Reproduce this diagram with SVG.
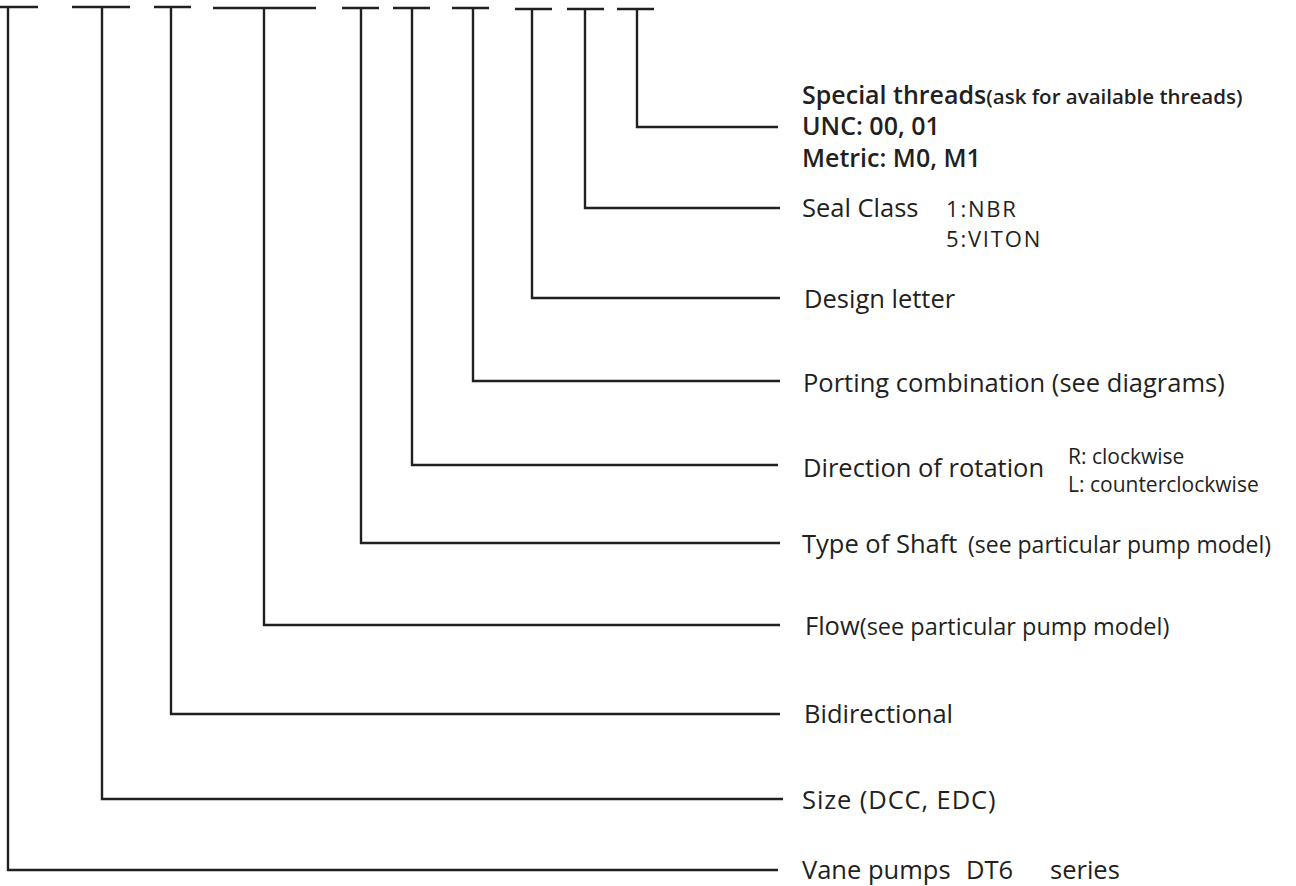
<svg xmlns="http://www.w3.org/2000/svg" width="1296" height="886" viewBox="0 0 1296 886">
<style>
.bar{stroke:#231f20;stroke-width:2.4;fill:none}
.con{stroke:#231f20;stroke-width:2.4;fill:none;stroke-linejoin:miter;stroke-linecap:butt}
text{font-family:"Open Sans","Noto Sans","Liberation Sans",sans-serif;fill:#231f20}
.lg{font-size:25.5px}
.md{font-size:23px}
.sm{font-size:21px}
.cd{font-size:22px;letter-spacing:1.8px}
.bd{font-size:25px;font-weight:600}
.bs{font-size:20.5px;font-weight:600}
</style>
<rect width="1296" height="886" fill="#ffffff"/>
<g id="code-bars">
<line class="bar" x1="0" y1="7" x2="38" y2="7"/>
<line class="bar" x1="72" y1="7" x2="130" y2="7"/>
<line class="bar" x1="154" y1="7" x2="191" y2="7"/>
<line class="bar" x1="213" y1="8" x2="316" y2="8"/>
<line class="bar" x1="342" y1="8" x2="379" y2="8"/>
<line class="bar" x1="393" y1="8" x2="430" y2="8"/>
<line class="bar" x1="452" y1="8" x2="489" y2="8"/>
<line class="bar" x1="515" y1="9" x2="552" y2="9"/>
<line class="bar" x1="567" y1="9" x2="604" y2="9"/>
<line class="bar" x1="617" y1="9" x2="654" y2="9"/>
</g>
<g id="connectors">
<polyline class="con" points="637,9 637,127 778,127"/>
<polyline class="con" points="585,9 585,208 780,208"/>
<polyline class="con" points="532,9 532,298 780,298"/>
<polyline class="con" points="473,8 473,381 780,381"/>
<polyline class="con" points="412,8 412,465 778,465"/>
<polyline class="con" points="361,8 361,543 780,543"/>
<polyline class="con" points="264,8 264,625 780,625"/>
<polyline class="con" points="171,7 171,714 780,714"/>
<polyline class="con" points="102,7 102,799 783,799"/>
<polyline class="con" points="8,7 8,870 778,870"/>
</g>
<g id="node-special-threads">
<text class="bd" x="802" y="104">Special threads<tspan class="bs">(ask for available threads)</tspan></text>
<text class="bd" x="802" y="135">UNC: 00, 01</text>
<text class="bd" x="802" y="167">Metric: M0, M1</text>
</g>
<g id="node-seal-class">
<text class="lg" x="802" y="217">Seal Class</text>
<text class="cd" x="946" y="217">1:NBR</text>
<text class="cd" x="946" y="247">5:VITON</text>
</g>
<g id="node-design-letter">
<text class="lg" x="804" y="308">Design letter</text>
</g>
<g id="node-porting">
<text class="lg" x="803" y="392">Porting combination (see diagrams)</text>
</g>
<g id="node-direction">
<text class="lg" x="803" y="477">Direction of rotation</text>
<text class="sm" x="1068" y="464">R: clockwise</text>
<text class="sm" x="1068" y="492">L: counterclockwise</text>
</g>
<g id="node-shaft">
<text class="lg" x="802" y="553">Type of Shaft</text>
<text class="md" x="968" y="553">(see particular pump model)</text>
</g>
<g id="node-flow">
<text class="lg" x="805" y="635">Flow<tspan font-size="23.5px">(see particular pump model)</tspan></text>
</g>
<g id="node-bidirectional">
<text class="lg" x="804" y="723">Bidirectional</text>
</g>
<g id="node-size">
<text class="lg" x="802" y="809" letter-spacing="0.9">Size (DCC, EDC)</text>
</g>
<g id="node-vane">
<text class="lg" x="802" y="879">Vane pumps</text>
<text class="lg" x="966" y="879">DT6</text>
<text class="lg" x="1050" y="879">series</text>
</g>
</svg>
